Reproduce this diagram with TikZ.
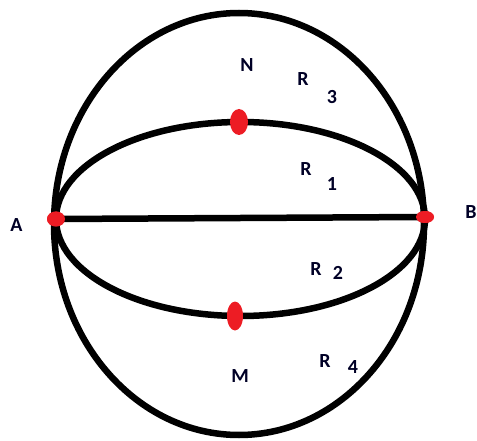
\documentclass[tikz,border=0pt]{standalone}
\usepackage{fontspec}
\setmainfont{Carlito}
\usetikzlibrary{shapes.geometric}
\definecolor{dotred}{HTML}{ED1C24}
\tikzset{
  curve/.style={line width=6.5pt,draw=black},
  reddot/.style={ellipse,fill=dotred,inner sep=0pt},
  lbl/.style={font=\fontsize{20}{20}\selectfont\bfseries,text=black!85!blue,inner sep=0pt}
}
\begin{document}
\begin{tikzpicture}[x=1pt,y=-1pt]
\useasboundingbox (0,0) rectangle (477,441);
% outer ellipse
\draw[curve] (239,224) ellipse [x radius=185, y radius=211];
% inner ellipse
\draw[curve] (240.5,219) ellipse [x radius=184.5, y radius=97];
% red points
\node[reddot,minimum width=18pt,minimum height=15pt] (dA) at (56,219) {};
\node[reddot,minimum width=18pt,minimum height=12pt] (dB) at (425,217) {};
% chord A-B
\draw[curve] (dA.center) -- (dB.center);
\node[reddot,minimum width=18pt,minimum height=15pt] at (56,219) {};
\node[reddot,minimum width=18pt,minimum height=12pt] at (425,217) {};
\node[reddot,minimum width=18pt,minimum height=26pt] (dN) at (239,122) {};
\node[reddot,minimum width=16pt,minimum height=29pt] (dM) at (235,316) {};
% labels
\node[lbl] (lA) at (16.5,225) {A};
\node[lbl] (lB) at (471,212) {B};
\node[lbl] (lN) at (247,65) {N};
\node[lbl] (lM) at (240,376) {M};
\node[lbl] (r3) at (303,79) {R};
\node[lbl] (n3) at (332,97) {3};
\node[lbl] (r1) at (306,169) {R};
\node[lbl] (n1) at (332,184) {1};
\node[lbl] (r2) at (316,269) {R};
\node[lbl] (n2) at (338,273) {2};
\node[lbl] (r4) at (325,361) {R};
\node[lbl] (n4) at (353,367) {4};
\end{tikzpicture}
\end{document}
